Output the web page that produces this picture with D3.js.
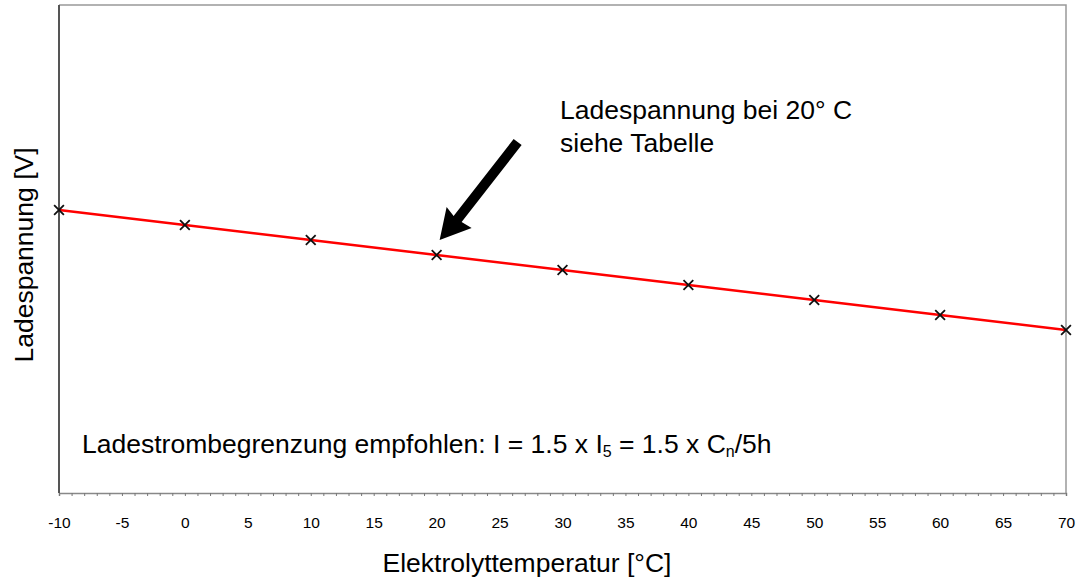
<!DOCTYPE html>
<html>
<head>
<meta charset="utf-8">
<script src="https://cdn.jsdelivr.net/npm/d3@7"></script>
<style>
  body { margin: 0; background: #fff; }
  text { font-family: "Liberation Sans", Arial, sans-serif; }
</style>
</head>
<body>
<div id="chart"></div>
<script>
// data
const temps = [-10, 0, 10, 20, 30, 40, 50, 60, 70];
const volts = [2.39, 2.36, 2.33, 2.30, 2.27, 2.24, 2.21, 2.18, 2.15];
const xTickLabels = [-10, -5, 0, 5, 10, 15, 20, 25, 30, 35, 40, 45, 50, 55, 60, 65, 70];

const W = 1083, H = 582;
const m = { top: 5, right: 17, bottom: 89, left: 59 };
const FS = 26.5;

const svg = d3.select('#chart').append('svg')
  .attr('width', W).attr('height', H);

const x = d3.scaleLinear().domain([-10, 70]).range([m.left, W - m.right]);
const y = d3.scaleLinear().domain([1.824, 2.8]).range([H - m.bottom, m.top]);

// frame (top + right grey)
svg.append('path')
  .attr('d', `M${x(-10)},${y(2.8)}H${x(70)}V${y(1.824)}`)
  .attr('fill', 'none').attr('stroke', '#999').attr('stroke-width', 1.5);

// minor ticks on x axis
const minor = d3.axisBottom(x).tickValues(d3.range(-10, 71, 1)).tickSize(3).tickFormat('');
svg.append('g').attr('transform', `translate(0,${y(1.824)})`).call(minor)
  .call(g => g.select('.domain').attr('stroke', '#888').attr('stroke-width', 1.5))
  .call(g => g.selectAll('.tick line').attr('stroke', '#777'));

const xAxis = d3.axisBottom(x).tickValues(xTickLabels).tickSize(0).tickPadding(24).tickFormat(d => String(d));
svg.append('g').attr('transform', `translate(0,${y(1.824)})`).call(xAxis)
  .call(g => g.select('.domain').remove())
  .call(g => g.selectAll('text').attr('font-size', 15.5).attr('fill', '#000')
    .attr('font-family', '"Liberation Sans", Arial, sans-serif'));

// left axis line
svg.append('line')
  .attr('x1', x(-10)).attr('x2', x(-10)).attr('y1', y(2.8)).attr('y2', y(1.824))
  .attr('stroke', '#555').attr('stroke-width', 2);

// line
const line = d3.line().x((d, i) => x(temps[i])).y(d => y(d));
svg.append('path').datum(volts)
  .attr('d', line).attr('fill', 'none').attr('stroke', '#ff0000').attr('stroke-width', 2.5);

// markers
svg.selectAll('.mk').data(volts).join('path')
  .attr('class', 'mk')
  .attr('transform', (d, i) => `translate(${x(temps[i])},${y(d)})`)
  .attr('d', d3.symbol(d3.symbolTimes, 64))
  .attr('fill', 'none').attr('stroke', '#111').attr('stroke-width', 1.8);

// arrow to 20 °C point
const tx = x(20) + 3, ty = y(2.30) - 15;
const arrow = [[tx, ty], [tx + 7, ty - 33], [tx + 14, ty - 24], [tx + 74, ty - 101],
  [tx + 82, ty - 95], [tx + 22, ty - 18], [tx + 32, ty - 12]];
svg.append('polygon').attr('points', arrow.map(p => p.join(',')).join(' ')).attr('fill', '#000');

// annotations
svg.append('text').attr('x', 560).attr('y', 119).attr('font-size', FS).text('Ladespannung bei 20° C');
svg.append('text').attr('x', 560).attr('y', 152).attr('font-size', FS).text('siehe Tabelle');

const note = svg.append('text').attr('x', 82).attr('y', 453).attr('font-size', FS);
note.append('tspan').text('Ladestrombegrenzung empfohlen: I = 1.5 x I');
note.append('tspan').attr('font-size', 16).attr('dy', 4).text('5');
note.append('tspan').attr('dy', -4).text(' = 1.5 x C');
note.append('tspan').attr('font-size', 16).attr('dy', 4).text('n');
note.append('tspan').attr('dy', -4).text('/5h');

// axis titles
svg.append('text').attr('x', 527).attr('y', 572)
  .attr('text-anchor', 'middle').attr('font-size', FS).text('Elektrolyttemperatur [°C]');
svg.append('text').attr('transform', `translate(33,255) rotate(-90)`)
  .attr('text-anchor', 'middle').attr('font-size', FS).text('Ladespannung [V]');
</script>
</body>
</html>
